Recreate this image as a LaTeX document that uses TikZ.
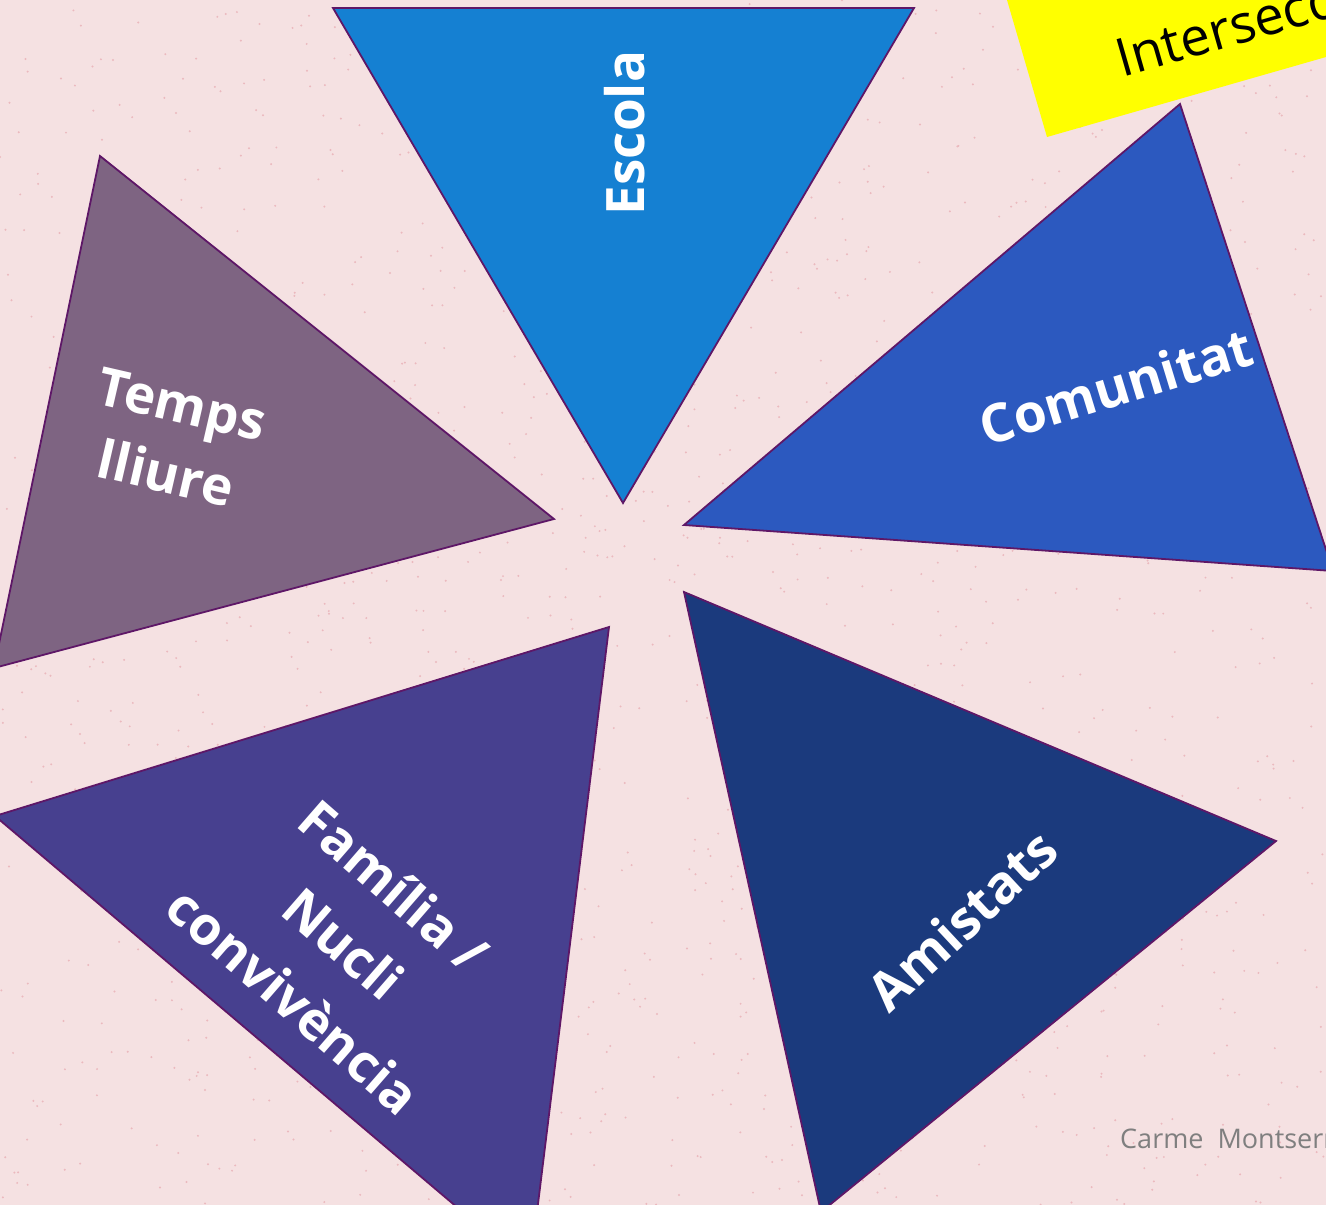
\documentclass[tikz,border=0pt]{standalone}
\usepackage{fontspec}
\setmainfont{Open Sans}
\usepackage{tikz}
\definecolor{fons}{HTML}{F5E1E2}
\definecolor{punt}{HTML}{EBB9BE}
\definecolor{groc}{HTML}{FFFF00}
\definecolor{vora}{HTML}{5E1767}
\definecolor{cescola}{HTML}{1580D2}
\definecolor{ccomunitat}{HTML}{2C59BF}
\definecolor{ctemps}{HTML}{7E6482}
\definecolor{cfamilia}{HTML}{47408F}
\definecolor{camistats}{HTML}{1B3A7D}
\definecolor{cgris}{HTML}{7F7F7F}
\tikzset{
wedge/.style={draw=vora, line width=1.8pt, line join=miter},
lbl/.style={text=white, inner sep=0pt, font=\bfseries\fontsize{53}{71}\selectfont}
}

\begin{document}
\begin{tikzpicture}[x=1pt, y=-1pt]
\useasboundingbox (0,0) rectangle (1326,1205);
\clip (0,0) rectangle (1326,1205);
\fill[fons] (0,0) rectangle (1326,1205);
\pgfmathsetseed{7}
\foreach \i in {1,...,1500} {
\pgfmathsetmacro{\px}{1326*rnd}
\pgfmathsetmacro{\py}{1205*rnd}
\fill[punt] (\px,\py) circle (1.1);
}

\fill[groc] (1047,137) -- (1007,0) -- (1326,0) -- (1326,57) -- cycle;
\node[anchor=base west, rotate=16, inner sep=0pt, font=\fontsize{53}{64}\selectfont] (intersec) at (1122,78) {Interseccional};

\filldraw[wedge, fill=cescola] (333,8) -- (914,8) -- (623,503) -- cycle;
\filldraw[wedge, fill=ccomunitat] (1180,104) -- (1333,571) -- (684,525) -- cycle;
\filldraw[wedge, fill=ctemps] (100,156) -- (554,519) -- (-6,668) -- cycle;
\filldraw[wedge, fill=cfamilia] (609,627) -- (530,1269) -- (-5,816) -- cycle;
\filldraw[wedge, fill=camistats] (684,592) -- (1276,841) -- (821,1212) -- cycle;

\node[lbl, rotate=90] (escola) at (625,133) {Escola};
\node[lbl, rotate=17] (comunitat) at (1116,386) {Comunitat};
\node[lbl, rotate=-13, align=center] (temps) at (174,439) {Temps\\lliure};
\node[lbl, rotate=-41, align=center, font=\bfseries\fontsize{53}{76}\selectfont] (familia) at (344,943) {Família /\\Nucli\\convivència};
\node[lbl, rotate=43] (amistats) at (962,920) {Amistats};

\node[anchor=base west, inner sep=0pt, text=cgris, font=\fontsize{27}{32}\selectfont] (autor) at (1120,1148) {Carme\ \ Montserrat};
\end{tikzpicture}
\end{document}
